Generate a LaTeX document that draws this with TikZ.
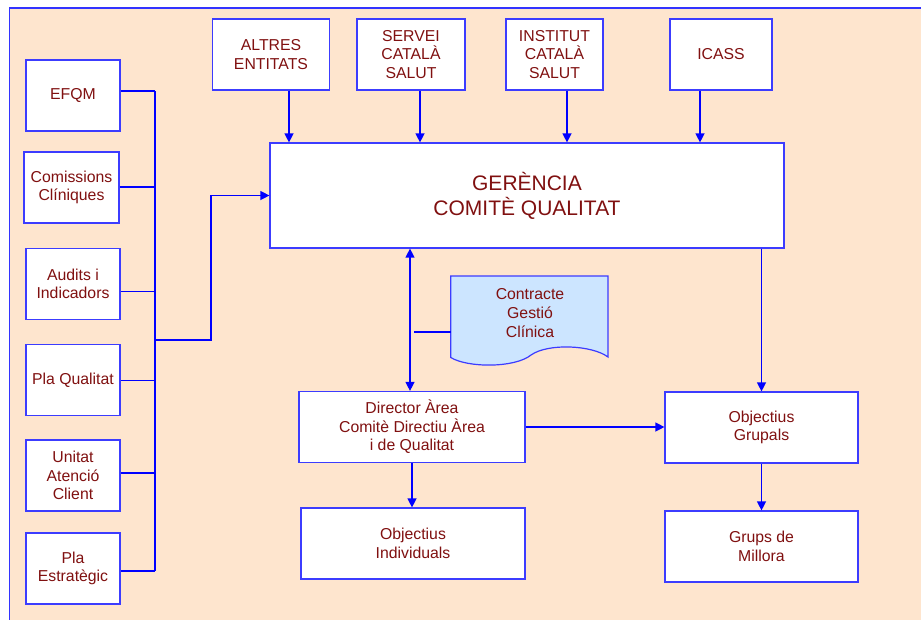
\documentclass[tikz,border=0pt]{standalone}
\usepackage{fontspec}
\setmainfont{Liberation Sans}
\usetikzlibrary{arrows.meta}
\definecolor{peach}{RGB}{254,229,206}
\definecolor{boxblue}{RGB}{60,60,255}
\definecolor{conblue}{RGB}{0,0,255}
\definecolor{txtred}{RGB}{128,16,16}
\definecolor{docblue}{RGB}{204,229,255}
\tikzset{
  box/.style={draw=boxblue, line width=1.2pt, fill=white, text=txtred, align=center,
    inner sep=0pt, font=\fontsize{15.8}{18.6}\selectfont},
  lbox/.style={box, minimum width=94pt, minimum height=71pt},
  tbox/.style={box, minimum height=71pt},
  conn/.style={draw=conblue, line width=1.3pt},
  arr/.style={conn, -{Triangle[length=9pt,width=9pt]}},
  darr/.style={conn, {Triangle[length=9pt,width=9pt]}-{Triangle[length=9pt,width=9pt]}},
}
\begin{document}
\begin{tikzpicture}[x=1pt,y=-1pt]
\useasboundingbox (0,0) rectangle (921,619);
\begin{scope}
  \clip (0,0) rectangle (921,619);
  % page frame
  \fill[peach] (9.7,8) rectangle (940,640);
  \draw[conblue!80, line width=1.2pt] (940,8) -- (9.7,8) -- (9.7,640);
\end{scope}

% left column of inputs
\node[lbox] (efqm)   at (73,95.5)  {EFQM};
\node[lbox, minimum width=95pt] (comis) at (71.5,187.5) {Comissions\\Clíniques};
\node[lbox] (audits) at (73,284)   {Audits i\\Indicadors};
\node[lbox] (plaq)   at (73,380)   {Pla Qualitat};
\node[lbox] (unitat) at (73,475.5) {Unitat\\Atenció\\Client};
\node[lbox] (plaest) at (73,568.5) {Pla\\Estratègic};

% top row of entities
\node[tbox, minimum width=117pt] (altres)   at (271,54.5)   {ALTRES\\ENTITATS};
\node[tbox, minimum width=108pt] (servei)   at (411,54.5)   {SERVEI\\CATALÀ\\SALUT};
\node[tbox, minimum width=97pt]  (institut) at (554.5,54.5) {INSTITUT\\CATALÀ\\SALUT};
\node[tbox, minimum width=102pt] (icass)    at (721,54.5)   {ICASS};

% management
\node[box, minimum width=514pt, minimum height=105pt,
      font=\fontsize{21}{25}\selectfont] (gerencia) at (527,195.5) {GERÈNCIA\\COMITÈ QUALITAT};

% lower boxes
\node[tbox, minimum width=226pt] (director) at (412,427)    {Director Àrea\\Comitè Directiu Àrea\\i de Qualitat};
\node[tbox, minimum width=224pt] (indiv)    at (413,543.5)  {Objectius\\Individuals};
\node[tbox, minimum width=193pt] (grupals)  at (761.5,427.5) {Objectius\\Grupals};
\node[tbox, minimum width=193pt] (millora)  at (761.5,546.5) {Grups de\\Millora};

% contract document
\draw[boxblue, line width=1.2pt, fill=docblue]
  (450.7,276) -- (608,276) -- (608,357)
  .. controls (592,345) and (548,343) .. (531,355)
  .. controls (515,368) and (468,368) .. (450.7,357.5) -- cycle;
\node[text=txtred, align=center, font=\fontsize{15.8}{18.6}\selectfont] (doc) at (530,313)
  {Contracte\\Gestió\\Clínica};

% collecting bus on the left
\coordinate (b1) at (155,91);
\coordinate (b2) at (155,187);
\coordinate (b3) at (155,291.7);
\coordinate (b4) at (155,380.3);
\coordinate (b5) at (155,473);
\coordinate (b6) at (155,571);
\coordinate (bout) at (155,340);
\coordinate (bend) at (211,340);
\draw[conn] (b1) -- (b6);
\draw[conn] (efqm.east |- b1) -- (b1);
\draw[conn] (comis.east |- b2) -- (b2);
\draw[conn] (audits.east |- b3) -- (b3);
\draw[conn] (plaq.east |- b4) -- (b4);
\draw[conn] (unitat.east |- b5) -- (b5);
\draw[conn] (plaest.east |- b6) -- (b6);
\draw[arr] (bout) -- (bend) |- (gerencia.west);

% entities into management
\coordinate (xa) at (289,0);
\coordinate (xs) at (420,0);
\coordinate (xi) at (567,0);
\coordinate (xc) at (700,0);
\draw[arr] (altres.south -| xa)   -- (gerencia.north -| xa);
\draw[arr] (servei.south -| xs)   -- (gerencia.north -| xs);
\draw[arr] (institut.south -| xi) -- (gerencia.north -| xi);
\draw[arr] (icass.south -| xc)    -- (gerencia.north -| xc);

% management to areas
\coordinate (xd) at (410,0);
\coordinate (dtap) at (414,332);
\coordinate (docin) at (450.7,332);
\draw[darr] (gerencia.south -| xd) -- (director.north -| xd);
\draw[conn] (dtap) -- (docin);
\draw[arr] (gerencia.south -| grupals.north) -- (grupals.north);
\draw[arr] (director.east) -- (director.east -| grupals.west);
\draw[arr] (director.south) -- (director.south |- indiv.north);
\draw[arr] (grupals.south) -- (millora.north);
\end{tikzpicture}
\end{document}
